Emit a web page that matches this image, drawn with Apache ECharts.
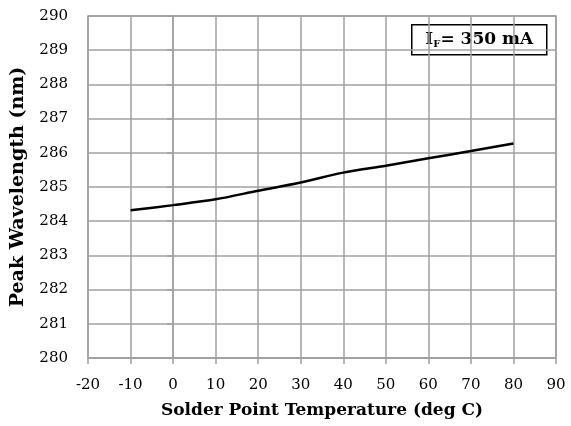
<!DOCTYPE html>
<html>
<head>
<meta charset="utf-8">
<script src="https://cdn.jsdelivr.net/npm/echarts@6/dist/echarts.min.js"></script>
<style>
html,body{margin:0;padding:0;background:#fff;}
#c{width:571px;height:426px;}
</style>
</head>
<body>
<div id="c"></div>
<script>
const temperatures = [-10, 0, 10, 20, 30, 40, 50, 60, 70, 80];
const peakWavelength = [284.32, 284.47, 284.64, 284.89, 285.13, 285.42, 285.62, 285.84, 286.05, 286.27];
const xTicks = [-20, -10, 0, 10, 20, 30, 40, 50, 60, 70, 80, 90];
const yTicks = [280, 281, 282, 283, 284, 285, 286, 287, 288, 289, 290];
const xTitle = 'Solder Point Temperature (deg C)';
const yTitle = 'Peak Wavelength (nm)';

const FONT = 'DejaVu Serif';
const gridColor = '#a0a0a0';

const chart = echarts.init(document.getElementById('c'), null, {renderer: 'canvas'});
chart.setOption({
  animation: false,
  backgroundColor: '#fff',
  grid: {left: 88, right: 15, top: 16, bottom: 68, containLabel: false,
         outerBoundsMode: 'none',
         show: true, borderColor: gridColor, borderWidth: 1.5},
  xAxis: {
    type: 'value',
    min: xTicks[0], max: xTicks[xTicks.length - 1], interval: 10,
    name: xTitle, nameLocation: 'middle', nameGap: 44,
    nameTextStyle: {fontFamily: FONT, fontWeight: 'bold', fontSize: 17, color: '#000'},
    axisLine: {show: true, lineStyle: {color: gridColor, width: 1.5}},
    axisTick: {show: true, length: 6, lineStyle: {color: gridColor, width: 1.5}},
    axisLabel: {fontFamily: FONT, fontSize: 15, color: '#000', margin: 20},
    splitLine: {show: true, lineStyle: {color: gridColor, width: 1.5}}
  },
  yAxis: {
    type: 'value',
    min: yTicks[0], max: yTicks[yTicks.length - 1], interval: 1,
    name: yTitle, nameLocation: 'middle', nameGap: 60,
    nameTextStyle: {fontFamily: FONT, fontWeight: 'bold', fontSize: 19, color: '#000'},
    axisLine: {show: true, lineStyle: {color: gridColor, width: 1.5}},
    axisTick: {show: true, length: 6, lineStyle: {color: gridColor, width: 1.5}},
    axisLabel: {fontFamily: FONT, fontSize: 15, color: '#000', margin: 20},
    splitLine: {show: true, lineStyle: {color: gridColor, width: 1.5}}
  },
  series: [{
    type: 'line',
    data: temperatures.map((t, i) => [t, peakWavelength[i]]),
    smooth: 0.3,
    showSymbol: false,
    lineStyle: {color: '#000', width: 2.5}
  }],
  graphic: [{
    type: 'group',
    left: 411, top: 24,
    children: [
      {type: 'rect', shape: {x: 0, y: 0, width: 135, height: 30},
       style: {fill: '#fff', stroke: '#000', lineWidth: 1.5}},
      {type: 'text', x: 67.5, y: 15,
       style: {
         text: '{i|I}{sub|F}{i|= 350 mA}',
         align: 'center', verticalAlign: 'middle',
         rich: {
           i: {fontFamily: FONT, fontWeight: 'bold', fontSize: 17, fill: '#000'},
           sub: {fontFamily: FONT, fontWeight: 'bold', fontSize: 10, fill: '#000', padding: [9, 0, 0, 0]}
         }
       }}
    ]
  }]
});
</script>
</body>
</html>
